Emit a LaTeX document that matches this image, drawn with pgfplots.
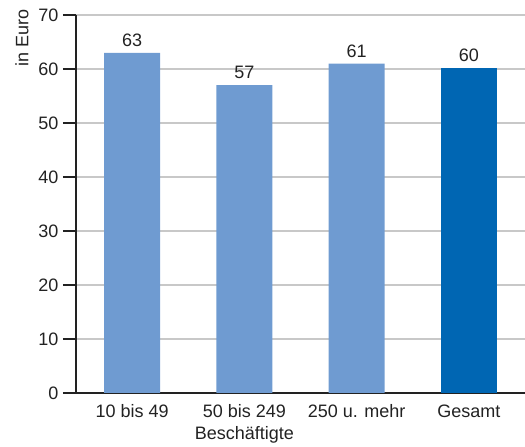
\documentclass[border=0pt]{standalone}
\usepackage{fontspec}
\setmainfont{Liberation Sans}
\usepackage{pgfplots}
\pgfplotsset{compat=1.18}
\definecolor{lightbar}{HTML}{6F9BD1}
\definecolor{darkbar}{HTML}{0066B3}
\definecolor{gridgray}{HTML}{C8C8C8}
\definecolor{axisblack}{HTML}{222222}
\begin{document}
\fontsize{18}{21}\selectfont
\begin{tikzpicture}
\path[use as bounding box] (-76pt,-54pt) rectangle (449pt,393pt);
\begin{axis}[
  at={(0,0)}, anchor=south west,
  scale only axis, width=449pt, height=378pt,
  xmin=-0.5, xmax=3.5, ymin=0, ymax=70,
  axis x line=bottom, axis y line=left,
  axis line style={-, axisblack, line width=1.3pt},
  ytick={0,10,...,70},
  xtick={0,1,2,3},
  xticklabels={10 bis 49, 50 bis 249, 250 u. mehr, Gesamt},
  tick align=outside,
  major tick length=13pt,
  ytick style={axisblack, line width=1.3pt},
  xtick style={draw=none},
  ymajorgrids,
  major grid style={gridgray, line width=1.2pt},
  tick label style={font=\fontsize{18}{21}\selectfont, text=axisblack},
  yticklabel style={inner sep=4.5pt},
  xticklabel style={anchor=base, yshift=-11.5pt},
  /pgf/number format/assume math mode=true,
  clip=false,
  nodes near coords={\pgfmathprintnumber[fixed,precision=0]{\pgfplotspointmeta}},
  every node near coord/.append style={font=\fontsize{18}{21}\selectfont, text=axisblack},
]
\addplot[ybar, bar width=56pt, bar shift=0pt, fill=lightbar, draw=none] coordinates {(0,63) (1,57) (2,61)};
\addplot[ybar, bar width=56pt, bar shift=0pt, fill=darkbar, draw=none] coordinates {(3,60.2)};
\node[rotate=90, anchor=east, inner sep=0pt, text=axisblack] at ([xshift=-54pt,yshift=6pt]rel axis cs:0,1) {in Euro};
\node[anchor=base, inner sep=0pt, text=axisblack] at ([yshift=-47pt]axis cs:1,0) {Beschäftigte};
\end{axis}
\end{tikzpicture}
\end{document}
